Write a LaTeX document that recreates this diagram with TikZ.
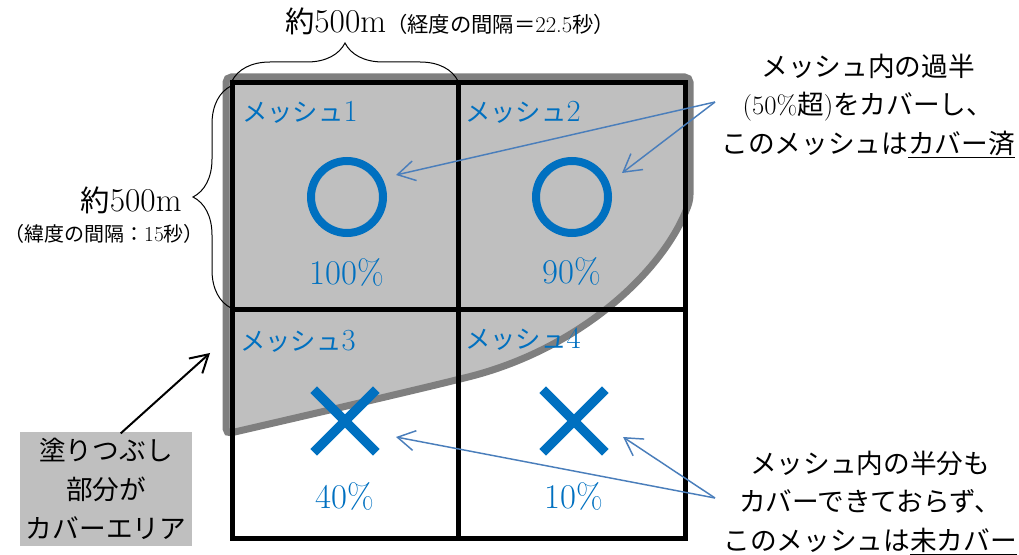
\documentclass[tikz,border=0pt]{standalone}
\usepackage{fontspec}
\newfontfamily\jp{Noto Sans CJK JP}
\usetikzlibrary{arrows.meta,decorations.pathreplacing,shapes.misc,calc}
\definecolor{meshblue}{HTML}{0070C0}
\definecolor{arrowblue}{HTML}{4A7EBB}
\definecolor{fillgray}{HTML}{BFBFBF}
\definecolor{edgegray}{HTML}{7F7F7F}
\newcommand{\jpfs}[2]{{\jp\fontsize{#1}{#1}\selectfont #2}}
\newcommand{\lmfs}[2]{{\fontsize{#1}{#1}\selectfont #2}}
\begin{document}
\begin{tikzpicture}[x=0.75pt,y=-0.75pt,
  jpt/.style={font=\jp\fontsize{20}{29}\selectfont, align=center},
  meshlbl/.style={text=meshblue, anchor=base west, inner sep=0},
  pct/.style={text=meshblue, font=\fontsize{26}{28}\selectfont, anchor=base, inner sep=0},
  ring/.style={circle, draw=meshblue, line width=6pt, minimum size=54pt, inner sep=0},
  xmark/.style={cross out, draw=meshblue, line width=7pt, minimum size=40pt, inner sep=0},
  callout/.style={draw=arrowblue, line width=1.1pt, -{Straight Barb[length=13pt,width=15pt]}},
  bracestyle/.style={decorate, decoration={brace, amplitude=28.5pt}, line width=0.75pt},
  gridline/.style={line width=3.75pt},
]
\useasboundingbox (0,0) rectangle (1019,555);

% covered area
\path[draw=edgegray, fill=fillgray, line width=5.25pt, rounded corners=4pt]
  (226,250) -- (226,77) -- (690,77) -- (690,200)
  .. controls (665,270) and (580,350) .. (460,379)
  .. controls (420,389) and (330,410) .. (226,434) -- cycle;

% mesh grid
\draw[gridline] (232,83) rectangle (685,538);
\draw[gridline] (458,83) -- (458,538) (232,310) -- (685,310);

% braces
\draw[bracestyle] (232,81) -- (458,81);
\draw[bracestyle] (231,308) -- (231,86);

% dimension labels
\node[anchor=base, inner sep=0] (toplbl) at (450,33)
  {\jpfs{22}{約}\lmfs{25}{500m}\jpfs{16}{（経度の間隔＝}\lmfs{17}{22.5}\jpfs{16}{秒）}};
\node[anchor=base, inner sep=0] (leftlbl) at (131,212) {\jpfs{22}{約}\lmfs{25}{500m}};
\node[anchor=base, inner sep=0] (leftsub) at (104,242)
  {\jpfs{15}{（緯度の間隔：}\lmfs{16}{15}\jpfs{15}{秒）}};

% mesh labels
\node[meshlbl] (m1) at (242,122) {\jpfs{19}{メッシュ}\lmfs{23}{1}};
\node[meshlbl] (m2) at (465,122) {\jpfs{19}{メッシュ}\lmfs{23}{2}};
\node[meshlbl] (m3) at (240,350) {\jpfs{19}{メッシュ}\lmfs{23}{3}};
\node[meshlbl] (m4) at (465,349) {\jpfs{19}{メッシュ}\lmfs{23}{4}};

% marks
\node[ring] (c1) at (347,197) {};
\node[ring] (c2) at (572,197) {};
\node[xmark] (x1) at (345,421) {};
\node[xmark] (x2) at (574,421) {};

% percentages
\node[pct] (p1) at (347,285) {100\%};
\node[pct] (p2) at (572,284) {90\%};
\node[pct] (p3) at (345,508) {40\%};
\node[pct] (p4) at (574,508) {10\%};

% notes
\node[jpt] (note1) at (868,106)
  {メッシュ内の過半\\{\rmfamily(50\%}超{\rmfamily)}をカバーし、\\このメッシュは\underline{カバー済}};
\node[jpt] (note2) at (870,503)
  {メッシュ内の半分も\\カバーできておらず、\\このメッシュは\underline{未カバー}};
\node[jpt, fill=fillgray, minimum width=129pt, minimum height=86pt, inner sep=0] (legend) at (106,489)
  {塗りつぶし\\部分が\\カバーエリア};

% connectors
\coordinate (ap1) at (715,102);
\coordinate (ap2) at (715,498);
\coordinate (covtip) at (210,353);
\draw[callout] (ap1) -- ($(c1)+(49,-22)$);
\draw[callout] (ap1) -- ($(c2)+(50,-24)$);
\draw[callout] (ap2) -- ($(x1)+(51,16)$);
\draw[callout] (ap2) -- ($(x2)+(49,16)$);
\draw[black, line width=1.5pt, -{Straight Barb[length=13pt,width=15pt]}]
  ([xshift=11pt,yshift=-1.5pt]legend.north) -- (covtip);
\end{tikzpicture}
\end{document}
